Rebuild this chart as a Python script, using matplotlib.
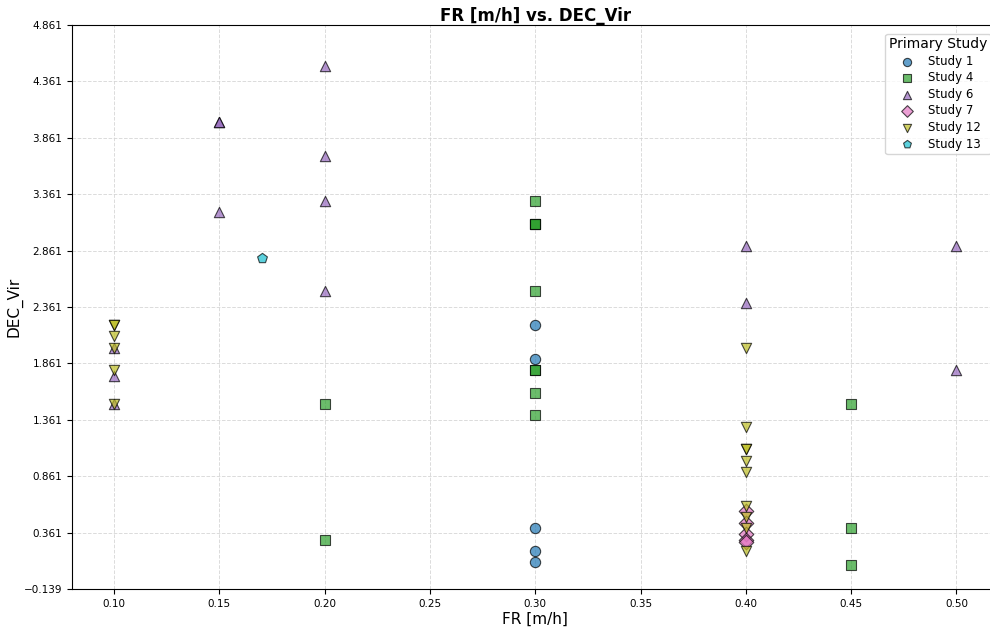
import matplotlib
matplotlib.use("Agg")
import matplotlib.pyplot as plt
import numpy as np

# values, one pair of lists per study
study_1_fr = [0.30, 0.30, 0.30, 0.30, 0.30]
study_1_dec = [2.2, 1.9, 0.4, 0.2, 0.1]

study_4_fr = [0.20, 0.20, 0.30, 0.30, 0.30, 0.30, 0.30, 0.30, 0.30, 0.30,
              0.30, 0.45, 0.45, 0.45]
study_4_dec = [1.5, 0.3, 3.3, 3.1, 3.1, 2.5, 1.8, 1.8, 1.6, 1.4,
               3.1, 1.5, 0.4, 0.07]

study_6_fr = [0.10, 0.10, 0.10, 0.15, 0.15, 0.15, 0.20, 0.20, 0.20, 0.20,
              0.40, 0.40, 0.50, 0.50]
study_6_dec = [2.0, 1.75, 1.5, 4.0, 4.0, 3.2, 4.5, 3.7, 3.3, 2.5,
               2.9, 2.4, 2.9, 1.8]

study_7_fr = [0.40, 0.40, 0.40, 0.40, 0.40]
study_7_dec = [0.55, 0.45, 0.35, 0.30, 0.28]

study_12_fr = [0.10, 0.10, 0.10, 0.10, 0.10, 0.10, 0.40, 0.40, 0.40, 0.40,
               0.40, 0.40, 0.40, 0.40, 0.40, 0.40]
study_12_dec = [2.2, 2.2, 2.1, 2.0, 1.8, 1.5, 2.0, 1.3, 1.1, 1.1,
                1.0, 0.9, 0.6, 0.5, 0.4, 0.2]

study_13_fr = [0.17]
study_13_dec = [2.8]

studies = ["Study 1", "Study 4", "Study 6", "Study 7", "Study 12", "Study 13"]
fr_data = [study_1_fr, study_4_fr, study_6_fr, study_7_fr, study_12_fr, study_13_fr]
dec_data = [study_1_dec, study_4_dec, study_6_dec, study_7_dec, study_12_dec, study_13_dec]
markers = ["o", "s", "^", "D", "v", "p"]

colors = plt.cm.tab10(np.linspace(0, 1, len(studies)))

fig = plt.figure(figsize=(9.9, 6.32), dpi=100)
ax = fig.add_axes([0.0727, 0.068, 0.936, 0.8924])

for name, xs, ys, m, c in zip(studies, fr_data, dec_data, markers, colors):
    ax.scatter(xs, ys, marker=m, color=c, s=55, alpha=0.7,
               edgecolors="k", linewidths=0.8, label=name)

y_lo, y_hi = -0.139, 4.861
ax.set_xlim(0.08, 0.52)
ax.set_ylim(y_lo, y_hi)
ax.set_yticks(np.arange(y_lo, y_hi + 0.01, 0.5))
ax.set_yticklabels([f"{v:.3f}".replace("-", "\u2212") for v in np.arange(y_lo, y_hi + 0.01, 0.5)])
ax.set_xticks(np.arange(0.10, 0.51, 0.05))
ax.tick_params(labelsize=7.5)

ax.grid(True, linestyle="--", color="lightgray", alpha=0.8, linewidth=0.7)
ax.set_axisbelow(True)

ax.set_xlabel("FR [m/h]", fontsize=11, labelpad=2)
ax.set_ylabel("DEC_Vir", fontsize=11, labelpad=1)
ax.set_title("FR [m/h] vs. DEC_Vir", fontsize=12, fontweight="bold", pad=3)

ax.legend(title="Primary Study", loc="upper right", bbox_to_anchor=(0.998, 0.995),
          fontsize=8.5, title_fontsize=10, markerscale=0.8,
          handletextpad=0.8, labelspacing=0.3, borderpad=0.3)

fig.savefig("out.png", dpi=100)
